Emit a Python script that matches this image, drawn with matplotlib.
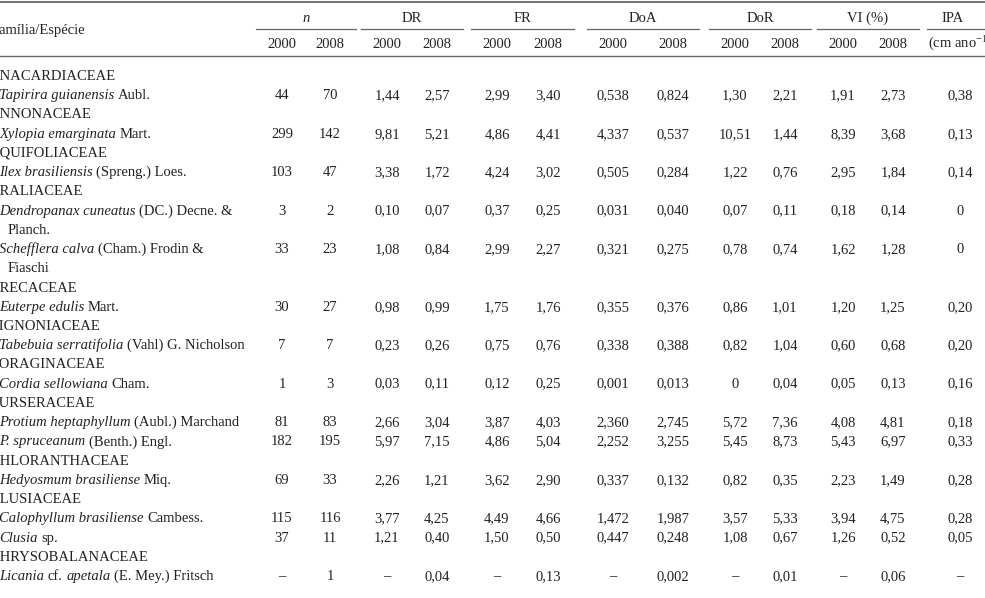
import matplotlib
matplotlib.use("Agg")
import matplotlib.pyplot as plt

plt.rcParams['font.family'] = 'Liberation Serif'
plt.rcParams['mathtext.fontset'] = 'custom'
plt.rcParams['mathtext.rm'] = 'Liberation Serif'
plt.rcParams['mathtext.it'] = 'Liberation Serif:italic'

# ---- data ----
families = ['ANACARDIACEAE', 'ANNONACEAE', 'AQUIFOLIACEAE', 'ARALIACEAE',
            'ARECACEAE', 'BIGNONIACEAE', 'BORAGINACEAE', 'BURSERACEAE',
            'CHLORANTHACEAE', 'CLUSIACEAE', 'CHRYSOBALANACEAE']

species_family = [0, 1, 2, 3, 3, 4, 5, 6, 7, 7, 8, 9, 9, 10]

# (text, italic)
species = [
    [('Tapirira guianensis', 1), ('Aubl.', 0)],
    [('Xylopia emarginata', 1), ('Mart.', 0)],
    [('Ilex brasiliensis', 1), ('(Spreng.) Loes.', 0)],
    [('Dendropanax cuneatus', 1), ('(DC.) Decne. &', 0)],
    [('Schefflera calva', 1), ('(Cham.) Frodin &', 0)],
    [('Euterpe edulis', 1), ('Mart.', 0)],
    [('Tabebuia serratifolia', 1), ('(Vahl) G. Nicholson', 0)],
    [('Cordia sellowiana', 1), ('Cham.', 0)],
    [('Protium heptaphyllum', 1), ('(Aubl.) Marchand', 0)],
    [('P. spruceanum', 1), ('(Benth.) Engl.', 0)],
    [('Hedyosmum brasiliense', 1), ('Miq.', 0)],
    [('Calophyllum brasiliense', 1), ('Cambess.', 0)],
    [('Clusia', 1), ('sp.', 0)],
    [('Licania', 1), ('cf.', 0), ('apetala', 1), ('(E. Mey.) Fritsch', 0)],
]
species_line2 = ['', '', '', 'Planch.', 'Fiaschi', '', '', '', '', '', '', '', '', '']

N = None
n_2000 = [44, 299, 103, 3, 33, 30, 7, 1, 81, 182, 69, 115, 37, N]
n_2008 = [70, 142, 47, 2, 23, 27, 7, 3, 83, 195, 33, 116, 11, 1]
dr_2000 = [1.44, 9.81, 3.38, 0.10, 1.08, 0.98, 0.23, 0.03, 2.66, 5.97, 2.26, 3.77, 1.21, N]
dr_2008 = [2.57, 5.21, 1.72, 0.07, 0.84, 0.99, 0.26, 0.11, 3.04, 7.15, 1.21, 4.25, 0.40, 0.04]
fr_2000 = [2.99, 4.86, 4.24, 0.37, 2.99, 1.75, 0.75, 0.12, 3.87, 4.86, 3.62, 4.49, 1.50, N]
fr_2008 = [3.40, 4.41, 3.02, 0.25, 2.27, 1.76, 0.76, 0.25, 4.03, 5.04, 2.90, 4.66, 0.50, 0.13]
doa_2000 = [0.538, 4.337, 0.505, 0.031, 0.321, 0.355, 0.338, 0.001, 2.360, 2.252, 0.337, 1.472, 0.447, N]
doa_2008 = [0.824, 0.537, 0.284, 0.040, 0.275, 0.376, 0.388, 0.013, 2.745, 3.255, 0.132, 1.987, 0.248, 0.002]
dor_2000 = [1.30, 10.51, 1.22, 0.07, 0.78, 0.86, 0.82, 0, 5.72, 5.45, 0.82, 3.57, 1.08, N]
dor_2008 = [2.21, 1.44, 0.76, 0.11, 0.74, 1.01, 1.04, 0.04, 7.36, 8.73, 0.35, 5.33, 0.67, 0.01]
vi_2000 = [1.91, 8.39, 2.95, 0.18, 1.62, 1.20, 0.60, 0.05, 4.08, 5.43, 2.23, 3.94, 1.26, N]
vi_2008 = [2.73, 3.68, 1.84, 0.14, 1.28, 1.25, 0.68, 0.13, 4.81, 6.97, 1.49, 4.75, 0.52, 0.06]
ipa = [0.38, 0.13, 0.14, 0, 0, 0.20, 0.20, 0.16, 0.18, 0.33, 0.28, 0.28, 0.05, N]

groups = ['n', 'DR', 'FR', 'DoA', 'DoR', 'VI (%)']
years = ['2000', '2008']

columns = [(n_2000, 0), (n_2008, 0), (dr_2000, 2), (dr_2008, 2), (fr_2000, 2), (fr_2008, 2),
           (doa_2000, 3), (doa_2008, 3), (dor_2000, 2), (dor_2008, 2), (vi_2000, 2), (vi_2008, 2),
           (ipa, 2)]


def fmt(v, d):
    if v is None:
        return '\u2013'
    if v == 0:
        return '0'
    return f'{v:.{d}f}'.replace('.', ',')


# ---- layout (pixels) ----
W, H = 985, 598
fs = 10.5
col_x = [282, 330, 387, 437, 497, 548, 613, 673, 735, 785, 843, 893, 960]
row0, row_h = 75, 19.23
fam_x, sp_x, cont_x = -10, -1, 8
txt_c = '#222222'
line_c = '#666666'

fig = plt.figure(figsize=(W / 100, H / 100), dpi=100)
ax = fig.add_axes([0, 0, 1, 1])
ax.set_xlim(0, W)
ax.set_ylim(H, 0)
ax.axis('off')
renderer = fig.canvas.get_renderer()
space_w = fs * 100 / 72 * 0.25


def put(x, y, s, ha='center', style='normal'):
    return ax.text(x, y + 5, s, ha=ha, va='baseline', fontsize=fs, color=txt_c,
                   style=style, clip_on=False)


# rules
ax.plot([0, W], [2, 2], color=line_c, lw=1.3)
ax.plot([0, W], [55.5, 55.5], color=line_c, lw=1.0)
for i in range(len(groups)):
    a, b = col_x[2 * i], col_x[2 * i + 1]
    ax.plot([a - 26, b + 26], [28.5, 28.5], color=line_c, lw=0.9)
ax.plot([col_x[12] - 33, W], [28.5, 28.5], color=line_c, lw=0.9)

# header
put(-8, 29, 'Família/Espécie', ha='left')
for i, g in enumerate(groups):
    mid = (col_x[2 * i] + col_x[2 * i + 1]) / 2
    put(mid, 17, g, style='italic' if g == 'n' else 'normal')
    for j, yr in enumerate(years):
        put(col_x[2 * i + j], 43, yr)
put(953, 17, 'IPA')
put(928, 43, '(cm ano$^{-1}$)', ha='left')

# body
row = 0
last_fam = -1
for k, segs in enumerate(species):
    if species_family[k] != last_fam:
        last_fam = species_family[k]
        put(fam_x, row0 + row * row_h, families[last_fam], ha='left')
        row += 1
    y = row0 + row * row_h
    x = sp_x
    for s, it in segs:
        t = put(x, y, s, ha='left', style='italic' if it else 'normal')
        x += t.get_window_extent(renderer).width + space_w
    for c, (vals, d) in enumerate(columns):
        put(col_x[c], y, fmt(vals[k], d))
    row += 1
    if species_line2[k]:
        put(cont_x, row0 + row * row_h, species_line2[k], ha='left')
        row += 1

fig.savefig('out.png', dpi=100)
